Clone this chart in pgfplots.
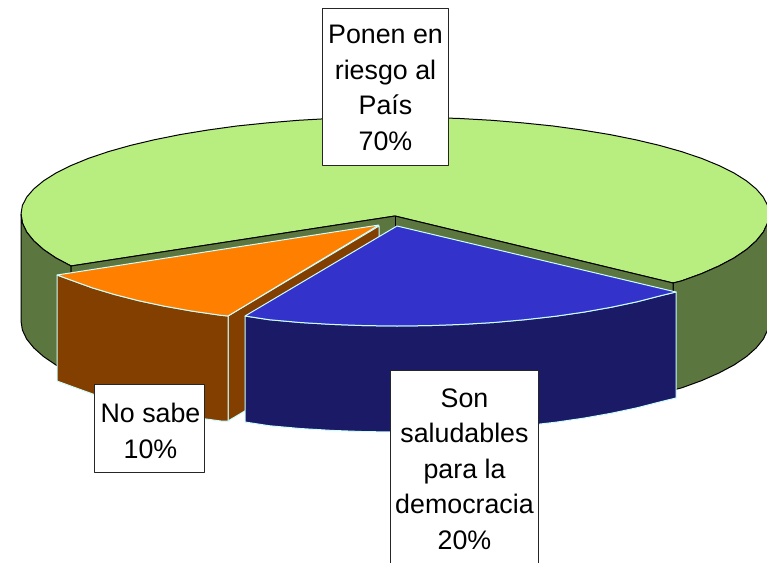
\documentclass[border=0pt]{standalone}
\usepackage{pgfplots}
\usepackage{fontspec}
\setmainfont{Liberation Sans}
\pgfplotsset{compat=1.18}
\definecolor{gtop}{RGB}{184,238,128}
\definecolor{gwall}{RGB}{92,118,64}
\definecolor{otop}{RGB}{255,128,0}
\definecolor{owall}{RGB}{130,63,0}
\definecolor{btop}{RGB}{51,51,204}
\definecolor{bwall}{RGB}{26,26,102}
\definecolor{edge}{RGB}{204,255,255}
\begin{document}
\begin{tikzpicture}
\useasboundingbox (0,0) rectangle (767pt,562pt);
\begin{axis}[
  scale only axis, width=767pt, height=562pt,
  xmin=0, xmax=767, ymin=0, ymax=562, y dir=reverse,
  hide axis, clip=true,
  every axis plot/.append style={line join=round}
]
% green top
\addplot[fill=gtop, draw=black, line width=1pt] coordinates {
(673,283)(681.5,280.9)(701.4,273.7)(718.9,266)(734,258)(746.4,249.6)(756.2,240.9)(763.3,232.1)(767.6,223.1)(769,214)(767.6,205.5)(763.3,197.1)(756.2,188.9)(746.4,180.8)(734,173)(718.9,165.5)(701.4,158.3)(681.5,151.6)(659.5,145.4)(635.4,139.7)(609.5,134.5)(582,130)(553.1,126)(522.9,122.9)(491.8,120.3)(460,118.5)(427.6,117.4)(395,117)(362.4,117.4)(330,118.5)(298.2,120.3)(267.1,122.9)(236.9,126)(208,130)(180.5,134.5)(154.6,139.7)(130.5,145.4)(108.5,151.6)(88.6,158.3)(71.1,165.5)(56,173)(43.6,180.8)(33.8,188.9)(26.7,197.1)(22.4,205.5)(21,214)(22.4,223.1)(26.7,232.1)(33.8,240.9)(43.6,249.6)(56,258)(71.1,266)(395,216)(673,283)
};
% green walls
\addplot[fill=gwall, draw=black, line width=1pt] coordinates {
(21,214)(22.4,223.1)(26.7,232.1)(33.8,240.9)(43.6,249.6)(56,258)(71.1,266)(71.1,373)(56,365)(43.6,356.6)(33.8,347.9)(26.7,339.1)(22.4,330.1)(21,321)(21,214)
};
\addplot[fill=gwall, draw=black, line width=1pt] coordinates {
(673,283)(681.5,280.9)(701.4,273.7)(718.9,266)(734,258)(746.4,249.6)(756.2,240.9)(763.3,232.1)(767.6,223.1)(769,214)(769,321)(767.6,330.1)(763.3,339.1)(756.2,347.9)(746.4,356.6)(734,365)(718.9,373)(701.4,380.7)(681.5,387.9)(673,390)(673,283)
};
\addplot[fill=gwall, draw=black, line width=1pt] coordinates {
(71,266)(395,216)(673,283)(673,390)(395,320)(71,373)(71,266)
};
\addplot[black, line width=1pt] coordinates {(395,216)(395,228)};
% orange inner wall
\addplot[fill=owall, draw=edge, line width=1pt] coordinates {
(228,316)(379,226)(379,331)(228,421)(228,316)
};
% orange front wall
\addplot[fill=owall, draw=edge, line width=1pt] coordinates {
(57,275)(72.6,280.7)(92.5,287.9)(114.5,294.5)(138.6,300.7)(164.5,306.2)(192,311.1)(220.9,315.3)(228,316)(228,421)(220.9,421)(192,417.1)(164.5,412.2)(138.6,406.7)(114.5,400.5)(92.5,393.9)(72.6,386.7)(57,381)(57,275)
};
% orange top
\addplot[fill=otop, draw=edge, line width=1pt] coordinates {
(379,225)(57,275)(72.6,280.7)(92.5,287.9)(114.5,294.5)(138.6,300.7)(164.5,306.2)(192,311.1)(220.9,315.3)(228,316)(379,225)
};
% blue front wall
\addplot[fill=bwall, draw=edge, line width=1pt] coordinates {
(245,316)(269.1,319.7)(300.2,322.5)(332,324.4)(364.4,325.6)(397,326)(429.6,325.6)(462,324.4)(493.8,322.5)(524.9,319.7)(555.1,316.3)(584,312.1)(611.5,307.2)(637.4,301.7)(661.5,295.5)(676,292)(676,398)(661.5,401.5)(637.4,407.7)(611.5,413.2)(584,418.1)(555.1,422.3)(524.9,425.7)(493.8,428.5)(462,430.4)(429.6,431.6)(397,432)(364.4,431.6)(332,430.4)(300.2,428.5)(269.1,425.7)(245,422)(245,316)
};
% blue top
\addplot[fill=btop, draw=edge, line width=1pt] coordinates {
(397,226)(245,316)(269.1,319.7)(300.2,322.5)(332,324.4)(364.4,325.6)(397,326)(429.6,325.6)(462,324.4)(493.8,322.5)(524.9,319.7)(555.1,316.3)(584,312.1)(611.5,307.2)(637.4,301.7)(661.5,295.5)(676,292)(397,226)
};
% label boxes
\addplot[fill=white, draw=black!85, line width=0.8pt] coordinates {(322,8)(448,8)(448,165.5)(322,165.5)(322,8)};
\addplot[fill=white, draw=black!85, line width=0.8pt] coordinates {(94.5,384)(204,384)(204,472)(94.5,472)(94.5,384)};
\addplot[fill=white, draw=black!85, line width=0.8pt] coordinates {(390.5,370)(538,370)(538,580)(390.5,580)(390.5,370)};
\node[align=center, font=\fontsize{26.8}{35.5}\selectfont, inner sep=0pt] at (axis cs:385.5,88) {Ponen en\\riesgo al\\País\\70\%};
\node[align=center, font=\fontsize{26.8}{35.5}\selectfont, inner sep=0pt] at (axis cs:150.5,431) {No sabe\\10\%};
\node[align=center, font=\fontsize{26.8}{35.5}\selectfont, inner sep=0pt] at (axis cs:464.5,469) {Son\\saludables\\para la\\democracia\\20\%};
\end{axis}
\end{tikzpicture}
\end{document}
